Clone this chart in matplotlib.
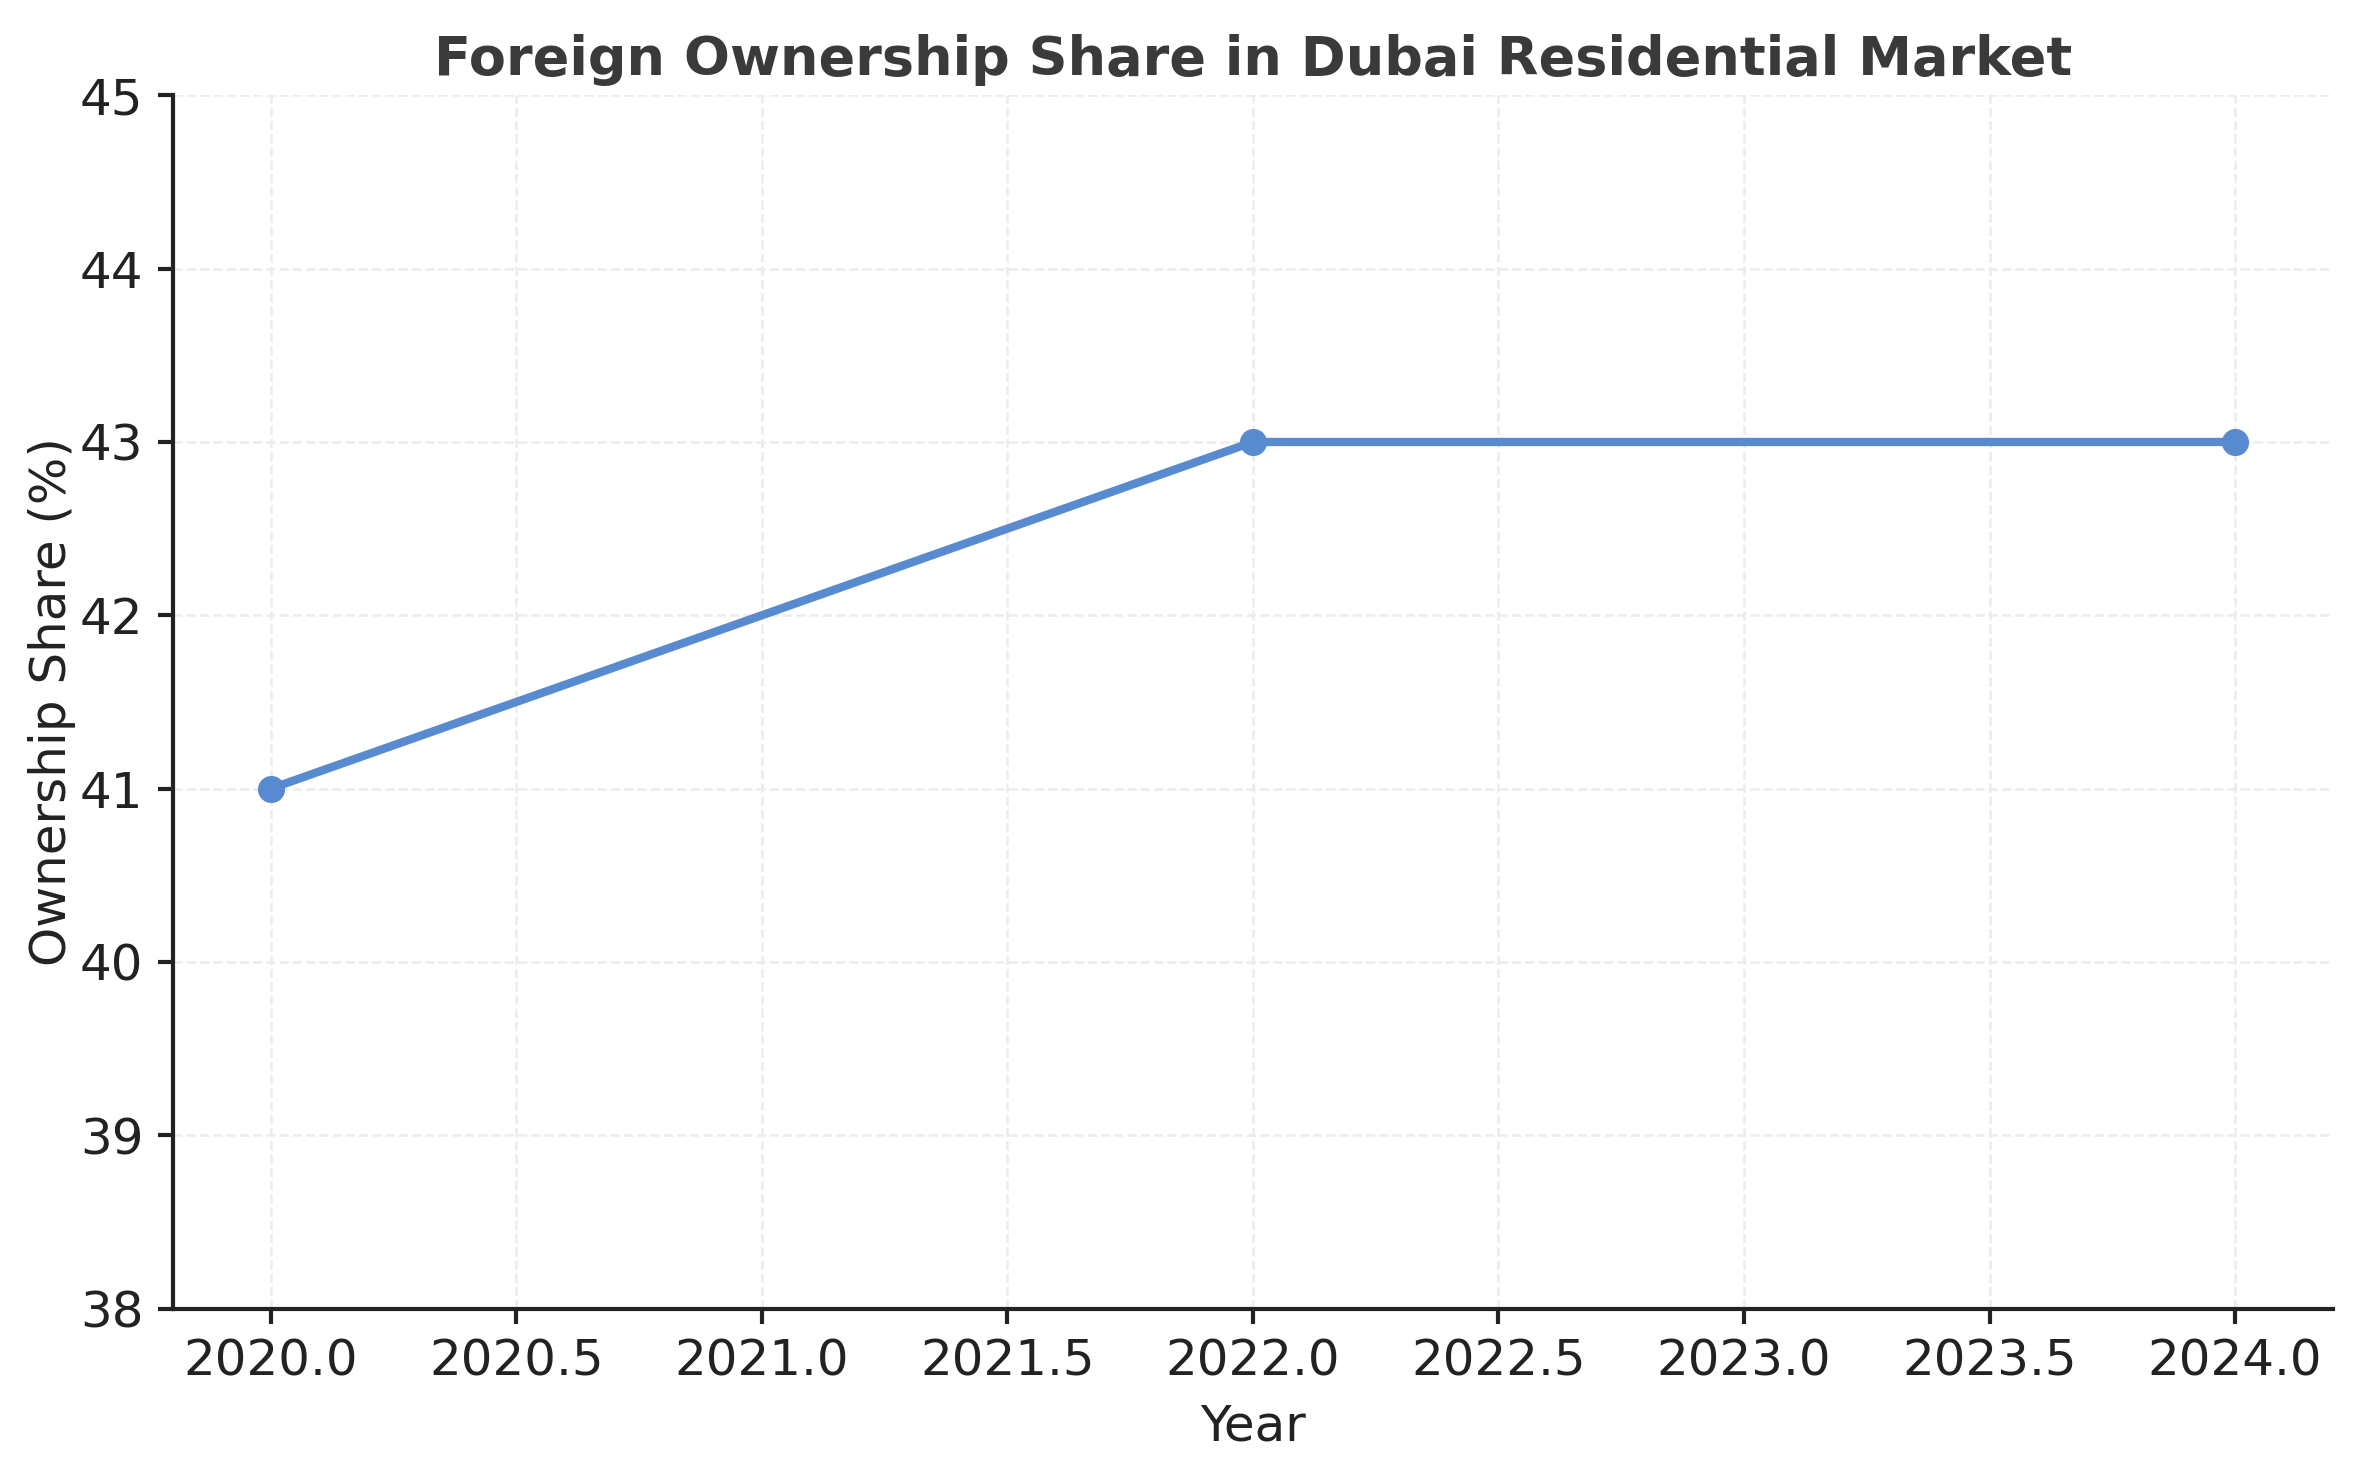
import matplotlib.pyplot as plt

# data
years = [2020, 2022, 2024]
share = [41, 43, 43]

LINE_COLOR = "#588AD0"
TEXT_COLOR = "#222222"


def main() -> None:
    plt.rcParams["font.family"] = ["DejaVu Sans"]
    fig, ax = plt.subplots(figsize=(7.88, 4.89), dpi=300)
    fig.subplots_adjust(left=0.073, right=0.987, top=0.935, bottom=0.108)

    ax.plot(years, share, color=LINE_COLOR, linewidth=2, marker="o", markersize=5.5)

    ax.set_ylim(38, 45)
    ax.set_title("Foreign Ownership Share in Dubai Residential Market",
                 fontsize=13, fontweight="bold", color="#3a3a3a", pad=5)
    ax.set_xlabel("Year", fontsize=12, color=TEXT_COLOR)
    ax.set_ylabel("Ownership Share (%)", fontsize=12, color=TEXT_COLOR, labelpad=1)

    ax.grid(True, linestyle="--", linewidth=0.6, color="#ececec")
    ax.set_axisbelow(True)
    for side in ("top", "right"):
        ax.spines[side].set_visible(False)
    for side in ("left", "bottom"):
        ax.spines[side].set_linewidth(1.0)
        ax.spines[side].set_color(TEXT_COLOR)
    ax.tick_params(labelsize=12, colors=TEXT_COLOR, width=1.0)

    fig.savefig("out.png", dpi=300)
    plt.close(fig)


if __name__ == "__main__":
    main()
